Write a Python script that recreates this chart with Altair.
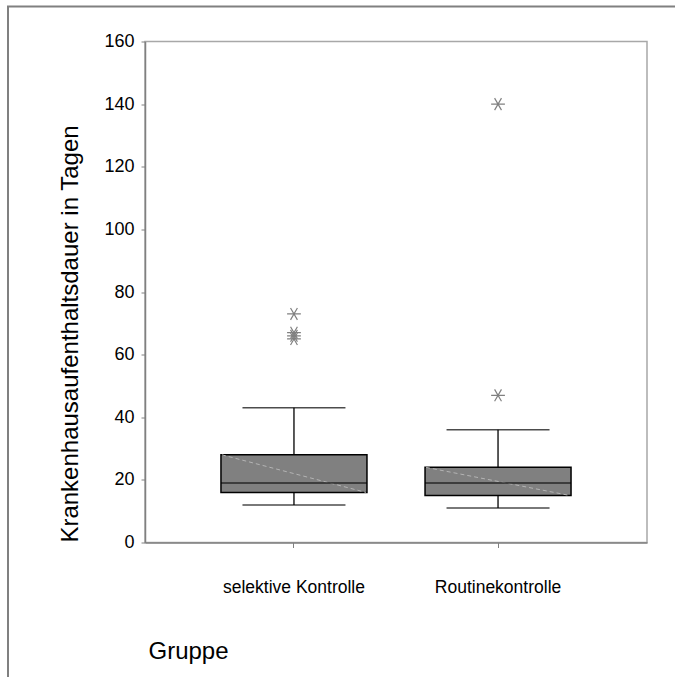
import altair as alt
import pandas as pd

groups = ["selektive Kontrolle", "Routinekontrolle"]
lower_whisker = [12, 11]
q1 = [16, 15]
median = [19, 19]
q3 = [28, 24]
upper_whisker = [43, 36]

outlier_groups = ["selektive Kontrolle", "selektive Kontrolle", "selektive Kontrolle",
                  "selektive Kontrolle", "Routinekontrolle", "Routinekontrolle"]
outlier_values = [73, 67, 66, 65, 140, 47]

y_ticks = list(range(0, 161, 10))

stats = pd.DataFrame({
    "Gruppe": groups,
    "lo": lower_whisker,
    "q1": q1,
    "med": median,
    "q3": q3,
    "hi": upper_whisker,
})
outl = pd.DataFrame({"Gruppe": outlier_groups, "v": outlier_values})

FONT = "Liberation Sans"
W, H = 502, 501

xscale = alt.Scale(domain=groups, paddingInner=0, paddingOuter=0.23)
yscale = alt.Scale(domain=[0, 160], nice=False, zero=True)

xaxis = alt.Axis(
    title="Gruppe", titleFont=FONT, titleFontSize=24, titleFontWeight="normal",
    titleColor="black", titleAlign="left", titleBaseline="middle",
    titleX=3, titleY=109,
    labelFont=FONT, labelFontSize=17.5, labelColor="black", labelAngle=0,
    labelBaseline="middle", labelPadding=40, tickSize=5,
    domainColor="#808080", tickColor="#808080", domainWidth=1.5,
)
yaxis = alt.Axis(
    title="Krankenhausaufenthaltsdauer in Tagen", titleFont=FONT, titleFontSize=24,
    titleFontWeight="normal", titleColor="black", titleAngle=-90,
    titleAlign="center", titleBaseline="middle", titleX=-75, titleY=292,
    values=y_ticks, labelExpr="datum.value % 20 == 0 ? datum.label : ''",
    labelFont=FONT, labelFontSize=18, labelColor="black", labelPadding=7,
    tickSize=4, domainColor="#808080", tickColor="#808080", domainWidth=1.5,
    grid=False,
)

base = alt.Chart(stats)
X = alt.X("Gruppe:N", scale=xscale, axis=xaxis, sort=groups)

whisker = base.mark_rule(color="black", strokeWidth=1.3).encode(
    x=X, y=alt.Y("lo:Q", scale=yscale, axis=yaxis), y2="hi:Q")
cap_hi = base.mark_tick(color="black", size=103, thickness=1.5).encode(
    x=X, y=alt.Y("hi:Q"))
cap_lo = base.mark_tick(color="black", size=103, thickness=1.5).encode(
    x=X, y=alt.Y("lo:Q"))
box = base.mark_bar(size=146, fill="#808080", stroke="black", strokeWidth=1.5).encode(
    x=X, y=alt.Y("q1:Q"), y2="q3:Q")
diag = base.mark_rule(color="#b4b4b4", strokeWidth=1, strokeDash=[4, 3],
                      xOffset=-72, x2Offset=72).encode(
    x=X, x2=alt.X2("Gruppe"), y=alt.Y("q3:Q"), y2="q1:Q")
med = base.mark_tick(color="black", size=146, thickness=1.5).encode(
    x=X, y=alt.Y("med:Q"))

star = "M-1,0L1,0M-0.5,-0.866L0.5,0.866M-0.5,0.866L0.5,-0.866"
pts = alt.Chart(outl).mark_point(shape=star, filled=False, stroke="#808080",
                                  strokeWidth=1.2, size=190, opacity=1).encode(
    x=alt.X("Gruppe:N", scale=xscale, sort=groups), y=alt.Y("v:Q"))

frame = alt.Chart(alt.Data(values=[{"a": 1}])).mark_rect(
    fill=None, stroke="#808080", strokeWidth=2).encode(
    x=alt.value(-137), y=alt.value(-35), x2=alt.value(800), y2=alt.value(800))

chart = alt.layer(frame, whisker, cap_hi, cap_lo, box, diag, med, pts).properties(
    width=W, height=H,
    autosize=alt.AutoSizeParams(type="none"),
    padding={"left": 145, "top": 41.5, "right": 28, "bottom": 134.5},
    background="white",
).configure_view(stroke="#a8a8a8", strokeWidth=1.5)

chart.save("out.html", embed_options={"renderer": "svg", "actions": False})
